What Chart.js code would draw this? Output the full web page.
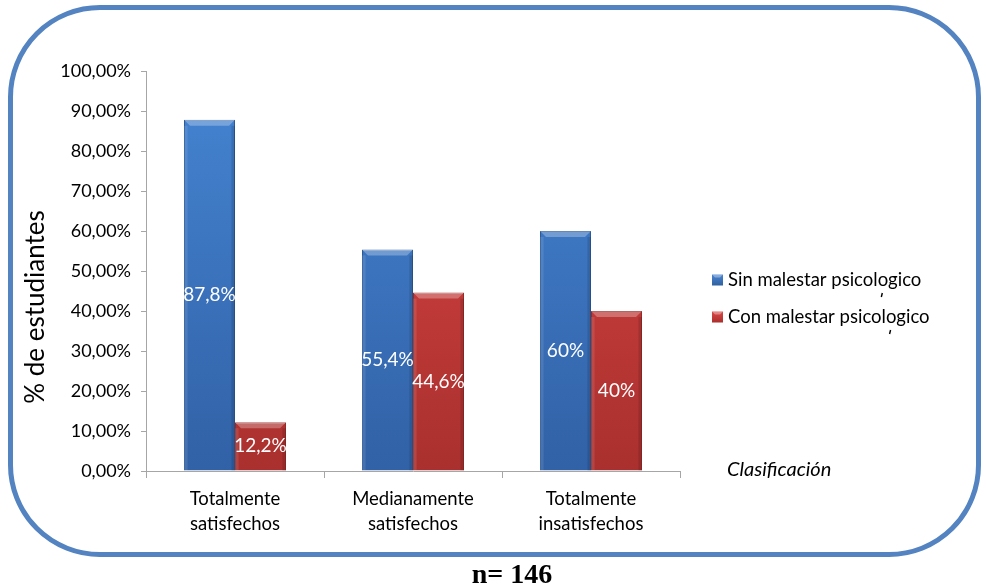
<!DOCTYPE html>
<html>
<head>
<meta charset="utf-8">
<script src="https://cdn.jsdelivr.net/npm/chart.js@4.4.1/dist/chart.umd.min.js"></script>
<style>
  html, body { margin: 0; padding: 0; background: #fff; }
  #marco {
    position: absolute; left: 8px; top: 5px; width: 973px; height: 552px;
    box-sizing: border-box; border: 5px solid #5383c0; border-radius: 92px;
  }
  #wrap { position: absolute; left: 0; top: 0; width: 986px; height: 588px; }
  #n {
    position: absolute; left: 0; width: 1024px; top: 558px; text-align: center;
    font-family: "Liberation Serif", "DejaVu Serif", serif; font-weight: bold; font-size: 28px; color: #000;
  }
</style>
</head>
<body>
<div id="marco"></div>
<div id="wrap"><canvas id="grafico" width="986" height="588"></canvas></div>
<div id="n">n= 146</div>
<script>
// datos
var categorias = [['Totalmente', 'satisfechos'], ['Medianamente', 'satisfechos'], ['Totalmente', 'insatisfechos']];
var series = ['Sin malestar psicologico', 'Con malestar psicologico'];
var sinMalestar = [87.8, 55.4, 60];
var conMalestar = [12.2, 44.6, 40];
var etiquetasSin = ['87,8%', '55,4%', '60%'];
var etiquetasCon = ['12,2%', '44,6%', '40%'];
var ticksY = [0, 10, 20, 30, 40, 50, 60, 70, 80, 90, 100];

var fuente = 'Lato, "Open Sans", sans-serif';

function relleno(arriba, abajo) {
  return function (c) {
    var ch = c.chart, a = ch.chartArea;
    if (!a) return arriba;
    var g = ch.ctx.createLinearGradient(0, a.top, 0, a.bottom);
    g.addColorStop(0, arriba);
    g.addColorStop(1, abajo);
    return g;
  };
}

// bisel de las barras y etiquetas blancas
var biselYEtiquetas = {
  id: 'biselYEtiquetas',
  afterDatasetsDraw: function (chart) {
    var ctx = chart.ctx;
    var textos = [etiquetasSin, etiquetasCon];
    chart.data.datasets.forEach(function (ds, i) {
      chart.getDatasetMeta(i).data.forEach(function (bar, j) {
        var x0 = bar.x - bar.width / 2, x1 = bar.x + bar.width / 2, y0 = bar.y, y1 = bar.base;
        var b = 6;
        ctx.save();
        ctx.fillStyle = 'rgba(255,255,255,0.28)';
        ctx.beginPath();
        ctx.moveTo(x0, y0); ctx.lineTo(x1, y0); ctx.lineTo(x1 - b, y0 + b); ctx.lineTo(x0 + b, y0 + b);
        ctx.closePath(); ctx.fill();
        ctx.fillStyle = 'rgba(255,255,255,0.10)';
        ctx.fillRect(x0, y0 + b, b * 0.6, y1 - y0 - b);
        ctx.fillStyle = 'rgba(0,0,0,0.12)';
        ctx.fillRect(x1 - b * 0.6, y0 + b, b * 0.6, y1 - y0 - b);
        ctx.fillStyle = '#fff';
        ctx.font = '19px ' + fuente;
        ctx.textAlign = 'center';
        ctx.textBaseline = 'middle';
        ctx.fillText(textos[i][j], bar.x, (y0 + y1) / 2);
        ctx.restore();
      });
    });
  }
};

// titulo del eje, leyenda a la derecha y texto "Clasificación"
var leyenda = {
  id: 'leyenda',
  afterDraw: function (chart) {
    var ctx = chart.ctx;
    var colores = [['#4a86d2', '#2f5f9e'], ['#dc4a48', '#a72e2c']];
    ctx.save();
    ctx.translate(36, 307);
    ctx.rotate(-Math.PI / 2);
    ctx.font = '26px ' + fuente;
    ctx.fillStyle = '#000';
    ctx.textAlign = 'center';
    ctx.textBaseline = 'middle';
    ctx.fillText('% de estudiantes', 0, 0);
    ctx.restore();

    ctx.save();
    ctx.font = '18.5px ' + fuente;
    ctx.textBaseline = 'middle';
    series.forEach(function (s, i) {
      var y = 280 + i * 37;
      var g = ctx.createLinearGradient(0, y - 6, 0, y + 6);
      g.addColorStop(0, colores[i][0]);
      g.addColorStop(1, colores[i][1]);
      ctx.fillStyle = g;
      ctx.fillRect(712, y - 5.5, 11, 11);
      ctx.fillStyle = 'rgba(255,255,255,0.35)';
      ctx.beginPath();
      ctx.moveTo(712, y - 5.5); ctx.lineTo(723, y - 5.5); ctx.lineTo(720, y - 2.5); ctx.lineTo(715, y - 2.5);
      ctx.closePath(); ctx.fill();
      ctx.fillStyle = '#000';
      ctx.textAlign = 'left';
      ctx.fillText(s, 728, y);
      var w = ctx.measureText(s).width;
      ctx.strokeStyle = '#000';
      ctx.lineWidth = 1.4;
      ctx.beginPath();
      ctx.moveTo(728 + w - 39, y + 13); ctx.lineTo(728 + w - 40, y + 17);
      ctx.stroke();
    });
    ctx.font = 'italic 20px ' + fuente;
    ctx.fillStyle = '#000';
    ctx.fillText('Clasificación', 727, 470);
    ctx.restore();
  }
};

new Chart(document.getElementById('grafico'), {
  type: 'bar',
  data: {
    labels: categorias,
    datasets: [
      { label: series[0], data: sinMalestar, backgroundColor: relleno('#4585d3', '#3161a6'), borderColor: '#2d5a96', borderWidth: 1 },
      { label: series[1], data: conMalestar, backgroundColor: relleno('#dc4644', '#a9302e'), borderColor: '#952a28', borderWidth: 1 }
    ]
  },
  options: {
    responsive: false,
    animation: false,
    layout: { padding: { left: 20, right: 306, top: 71, bottom: 0 } },
    plugins: { legend: { display: false }, tooltip: { enabled: false } },
    datasets: { bar: { categoryPercentage: 0.573, barPercentage: 1 } },
    scales: {
      x: {
        grid: { display: true, drawOnChartArea: false, tickLength: 7, color: '#a6a6a6', offset: true },
        border: { color: '#a6a6a6' },
        ticks: { color: '#000', padding: 8, font: { family: fuente, size: 18.5, lineHeight: 1.38 }, maxRotation: 0 },
        afterFit: function (s) { s.height = 117; }
      },
      y: {
        min: 0, max: 100,
        afterBuildTicks: function (s) { s.ticks = ticksY.map(function (v) { return { value: v }; }); },
        grid: { display: true, drawOnChartArea: false, tickLength: 5, color: '#a6a6a6' },
        border: { color: '#a6a6a6' },
        ticks: {
          color: '#000', padding: 10, font: { family: fuente, size: 18 },
          callback: function (v) { return v.toFixed(2).replace('.', ',') + '%'; }
        },
        afterFit: function (s) { s.width = 126; }
      }
    }
  },
  plugins: [biselYEtiquetas, leyenda]
});
</script>
</body>
</html>
